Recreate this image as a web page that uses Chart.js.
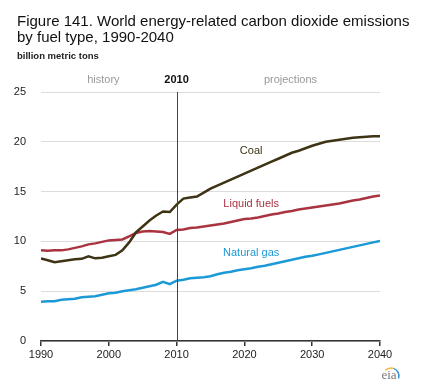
<!DOCTYPE html>
<html>
<head>
<meta charset="utf-8">
<script src="https://cdn.jsdelivr.net/npm/chart.js@4"></script>
<style>
  html, body { margin: 0; padding: 0; background: #fff; }
  #wrap { width: 423px; height: 392px; }
</style>
</head>
<body>
<div id="wrap"><canvas id="co2Chart" width="423" height="392"></canvas></div>
<script>
// ---------- data (billion metric tons) ----------
const years = [];
for (let y = 1990; y <= 2040; y++) years.push(y);

const coal = [8.3, 8.1, 7.9, 8.0, 8.1, 8.2, 8.25, 8.5, 8.3, 8.35, 8.5, 8.65, 9.1, 9.9, 10.9, 11.5, 12.1, 12.6, 13.0, 12.95,
  13.7, 14.3, 14.4, 14.5, 14.9, 15.3, 15.6, 15.9, 16.2, 16.5, 16.8, 17.1, 17.4, 17.7, 18.0, 18.3, 18.6, 18.9, 19.1, 19.35,
  19.6, 19.8, 20.0, 20.1, 20.2, 20.3, 20.4, 20.45, 20.5, 20.55, 20.55];
const liquids = [9.1, 9.05, 9.1, 9.1, 9.2, 9.35, 9.5, 9.7, 9.8, 9.95, 10.1, 10.15, 10.2, 10.5, 10.85, 11.0, 11.05, 11.0, 10.95, 10.75,
  11.15, 11.2, 11.35, 11.4, 11.5, 11.6, 11.7, 11.8, 11.95, 12.1, 12.25, 12.3, 12.4, 12.55, 12.7, 12.8, 12.95, 13.05, 13.2, 13.3,
  13.4, 13.5, 13.6, 13.7, 13.8, 13.95, 14.1, 14.2, 14.35, 14.5, 14.6];
const natGas = [3.95, 4.0, 4.0, 4.15, 4.2, 4.25, 4.4, 4.45, 4.5, 4.65, 4.8, 4.85, 5.0, 5.1, 5.2, 5.35, 5.5, 5.65, 5.95, 5.7,
  6.05, 6.15, 6.3, 6.35, 6.4, 6.5, 6.7, 6.85, 6.95, 7.1, 7.2, 7.3, 7.45, 7.55, 7.7, 7.85, 8.0, 8.15, 8.3, 8.45,
  8.55, 8.7, 8.85, 9.0, 9.15, 9.3, 9.45, 9.6, 9.75, 9.9, 10.05];

const seriesNames = ['Coal', 'Liquid fuels', 'Natural gas'];
const seriesColors = ['#3e3314', '#a9343f', '#1b9ad7'];
// label anchor points in data units (year, value)
const labelPos = [[2021, 19.05], [2021, 13.8], [2021, 8.8]];
const xTicks = [1990, 2000, 2010, 2020, 2030, 2040];
const yTicks = [0, 5, 10, 15, 20, 25];

const FONT = 'Liberation Sans, Arial, sans-serif';

//----------------подписи, линия 2010 и заголовок-----------------
const decorPlugin = {
  id: 'decor',
  afterDatasetsDraw(chart) {
    const ctx = chart.ctx;
    const xs = chart.scales.x, ys = chart.scales.y;
    const area = chart.chartArea;
    ctx.save();

    // 2010 divider
    const x10 = Math.round(xs.getPixelForValue(2010)) + 0.5;
    ctx.strokeStyle = '#444';
    ctx.lineWidth = 1;
    ctx.beginPath();
    ctx.moveTo(x10, area.top);
    ctx.lineTo(x10, area.bottom);
    ctx.stroke();

    // headers above the plot
    ctx.textAlign = 'center';
    ctx.textBaseline = 'middle';
    ctx.font = '11px ' + FONT;
    ctx.fillStyle = '#999';
    ctx.fillText('history', xs.getPixelForValue(1999.2), area.top - 12);
    ctx.fillText('projections', xs.getPixelForValue(2026.8), area.top - 12);
    ctx.fillStyle = '#111';
    ctx.font = 'bold 11px ' + FONT;
    ctx.fillText('2010', xs.getPixelForValue(2010), area.top - 12);

    // series labels
    ctx.font = '11px ' + FONT;
    seriesNames.forEach((name, i) => {
      ctx.fillStyle = seriesColors[i];
      ctx.fillText(name, xs.getPixelForValue(labelPos[i][0]), ys.getPixelForValue(labelPos[i][1]));
    });

    // title block
    ctx.textAlign = 'left';
    ctx.textBaseline = 'alphabetic';
    ctx.fillStyle = '#111';
    ctx.font = '15px ' + FONT;
    ctx.fillText('Figure 141. World energy-related carbon dioxide emissions', 17, 26);
    ctx.fillText('by fuel type, 1990-2040', 17, 42);
    ctx.font = 'bold 9.5px ' + FONT;
    ctx.fillStyle = '#222';
    ctx.fillText('billion metric tons', 17, 59);

    // eia mark
    ctx.font = '13px Liberation Serif, serif';
    ctx.fillStyle = '#777';
    ctx.textAlign = 'center';
    ctx.fillText('eia', 389, 379);
    ctx.lineWidth = 1.5;
    ctx.strokeStyle = '#f2b632';
    ctx.beginPath();
    ctx.arc(391, 376, 8, Math.PI * 1.25, Math.PI * 1.6);
    ctx.stroke();
    ctx.strokeStyle = '#3a8fd0';
    ctx.beginPath();
    ctx.arc(391, 376, 8, Math.PI * 1.6, Math.PI * 2.1);
    ctx.stroke();
    ctx.restore();
  }
};

window.addEventListener('load', () => { main1() });

function main1() {
  const ctx = document.getElementById('co2Chart').getContext('2d');

  new Chart(ctx, {
    type: 'line',
    data: {
      labels: years,
      datasets: seriesNames.map((name, i) => ({
        label: name,
        data: [coal, liquids, natGas][i].map((v, k) => ({ x: years[k], y: v })),
        borderColor: seriesColors[i],
        borderWidth: 2.5,
        pointRadius: 0,
        tension: 0,
        fill: false
      }))
    },
    options: {
      responsive: false,
      animation: false,
      layout: { padding: { top: 92, right: 43, left: 0, bottom: 0 } },
      plugins: { legend: { display: false }, tooltip: { enabled: false } },
      scales: {
        x: {
          type: 'linear',
          min: 1990,
          max: 2040,
          afterBuildTicks: (s) => { s.ticks = xTicks.map(v => ({ value: v })); },
          afterFit: (s) => { s.height = 51; },
          border: { display: true, color: '#333', width: 1.5 },
          grid: { drawOnChartArea: false, drawTicks: true, tickLength: 5, color: '#333', lineWidth: 1.5 },
          ticks: { color: '#222', font: { family: FONT, size: 11 }, padding: 2, callback: v => String(v) }
        },
        y: {
          min: 0,
          max: 25,
          afterBuildTicks: (s) => { s.ticks = yTicks.map(v => ({ value: v })); },
          afterFit: (s) => { s.width = 41; },
          border: { display: false },
          grid: { color: '#dcdcdc', lineWidth: 1, drawTicks: false },
          ticks: { color: '#222', font: { family: FONT, size: 11 }, padding: 15 }
        }
      }
    },
    plugins: [decorPlugin]
  });
}
</script>
</body>
</html>
